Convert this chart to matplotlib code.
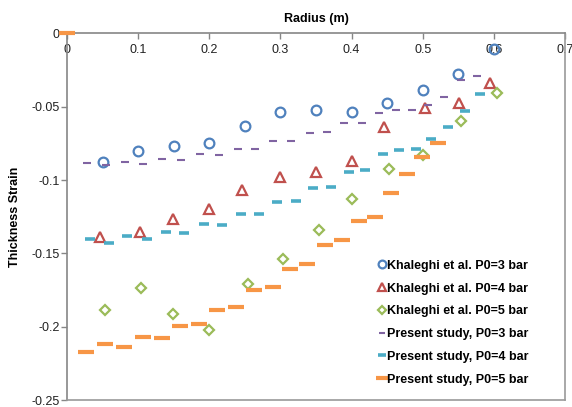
import matplotlib
matplotlib.use("Agg")
import matplotlib.pyplot as plt

plt.rcParams["font.family"] = ["Liberation Sans", "DejaVu Sans"]

# Khaleghi et al. (experimental)
kh_r = [0.05, 0.10, 0.15, 0.20, 0.25, 0.30, 0.35, 0.40, 0.45, 0.50, 0.55, 0.60]
kh3 = [-0.088, -0.080, -0.077, -0.0746, -0.0632, -0.0537, -0.0525, -0.0537, -0.0477, -0.0387, -0.0278, -0.0107]
kh4_r = [0.046, 0.102, 0.149, 0.200, 0.246, 0.300, 0.350, 0.400, 0.446, 0.503, 0.551, 0.595]
kh4 = [-0.139, -0.1357, -0.1267, -0.1194, -0.1069, -0.0978, -0.0944, -0.0869, -0.0637, -0.0512, -0.0477, -0.0341]
kh5_r = [0.054, 0.104, 0.149, 0.199, 0.254, 0.303, 0.354, 0.401, 0.453, 0.500, 0.553, 0.604]
kh5 = [-0.1888, -0.1733, -0.191, -0.2024, -0.1712, -0.1535, -0.1342, -0.1132, -0.0926, -0.083, -0.0598, -0.0405]

# Present study
ps3_r = [0.028, 0.055, 0.081, 0.107, 0.134, 0.160, 0.187, 0.213, 0.240, 0.264, 0.290, 0.315,
         0.341, 0.365, 0.390, 0.415, 0.438, 0.462, 0.485, 0.508, 0.530, 0.554, 0.576]
ps3 = [-0.0887, -0.0898, -0.0880, -0.0892, -0.0857, -0.0866, -0.0825, -0.0832, -0.0787, -0.0789, -0.0737, -0.0737,
       -0.0682, -0.0675, -0.0614, -0.0610, -0.0546, -0.0523, -0.0523, -0.0489, -0.0432, -0.0319, -0.0291]
ps4_r = [0.032, 0.059, 0.085, 0.112, 0.139, 0.165, 0.192, 0.218, 0.244, 0.270, 0.295, 0.322,
         0.346, 0.371, 0.396, 0.419, 0.444, 0.467, 0.490, 0.512, 0.536, 0.559, 0.581]
ps4 = [-0.1401, -0.1430, -0.1383, -0.1405, -0.1351, -0.1364, -0.1301, -0.1306, -0.1233, -0.1233, -0.1149, -0.1144,
       -0.1053, -0.1046, -0.0944, -0.0932, -0.0825, -0.0796, -0.0791, -0.0723, -0.0641, -0.0530, -0.0416]
ps5_r = [0.0, 0.027, 0.053, 0.080, 0.107, 0.133, 0.159, 0.186, 0.211, 0.237, 0.263, 0.289, 0.314,
         0.338, 0.363, 0.386, 0.410, 0.433, 0.455, 0.478, 0.499, 0.521]
ps5 = [0.0, -0.2174, -0.2119, -0.2139, -0.2069, -0.2076, -0.1992, -0.1983, -0.1883, -0.1865, -0.1751, -0.1728, -0.1603,
       -0.1569, -0.1444, -0.1410, -0.1280, -0.1255, -0.1091, -0.0960, -0.0842, -0.0750]

x_ticks = [0, 0.1, 0.2, 0.3, 0.4, 0.5, 0.6, 0.7]
x_labels = ["0", "0.1", "0.2", "0.3", "0.4", "0.5", "0.6", "0.7"]
y_ticks = [0, -0.05, -0.1, -0.15, -0.2, -0.25]
y_labels = ["0", "-0.05", "-0.1", "-0.15", "-0.2", "-0.25"]

fig = plt.figure(figsize=(5.72, 4.07), dpi=100)
ax = fig.add_axes([0.117, 0.017, 0.871, 0.901])

ax.plot(kh_r, kh3, "o", ms=7, mfc="none", mec="#4F81BD", mew=1.6, ls="none",
        label="Khaleghi et al. P0=3 bar", clip_on=False, zorder=3)
ax.plot(kh4_r, kh4, "^", ms=6.5, mfc="none", mec="#C0504D", mew=1.6, ls="none",
        label="Khaleghi et al. P0=4 bar", clip_on=False, zorder=3)
ax.plot(kh5_r, kh5, "D", ms=5.5, mfc="none", mec="#9BBB59", mew=1.6, ls="none",
        label="Khaleghi et al. P0=5 bar", clip_on=False, zorder=3)
ax.plot(ps3_r, ps3, "_", ms=5.5, mec="#8064A2", mew=1.5, ls="none",
        label="Present study, P0=3 bar", clip_on=False, zorder=3)
ax.plot(ps4_r, ps4, "_", ms=6.5, mec="#4BACC6", mew=2.6, ls="none",
        label="Present study, P0=4 bar", clip_on=False, zorder=3)
ax.plot(ps5_r, ps5, "_", ms=11, mec="#F79646", mew=3, ls="none",
        label="Present study, P0=5 bar", clip_on=False, zorder=3)

ax.set_xlim(0, 0.7)
ax.set_ylim(-0.25, 0)

# x axis sits at y=0 (top), frame border at the bottom
ax.spines["bottom"].set_position(("data", 0))
ax.spines["top"].set_position(("data", -0.25))
for s in ["bottom", "left"]:
    ax.spines[s].set_color("#868686")
    ax.spines[s].set_linewidth(1.2)
for s in ["top", "right"]:
    ax.spines[s].set_color("#9a9a9a")
    ax.spines[s].set_linewidth(1.2)

ax.set_xticks(x_ticks)
ax.set_xticklabels(x_labels)
ax.set_yticks(y_ticks)
ax.set_yticklabels(y_labels)
ax.tick_params(axis="both", direction="out", length=4, width=1, color="#868686",
               labelsize=9, labelcolor="#222222")
ax.tick_params(axis="x", pad=4)
ax.tick_params(axis="y", pad=1)

ax.set_title("Radius (m)", fontsize=9, fontweight="bold", pad=8)
ax.set_ylabel("Thickness Strain", fontsize=9, fontweight="bold", labelpad=8)

leg = ax.legend(loc="lower left", bbox_to_anchor=(0.615, 0.026), frameon=False,
                prop={"size": 9, "weight": "bold"}, handlelength=0.6, handletextpad=0.1,
                labelspacing=0.86, markerscale=0.8, borderaxespad=0)

fig.savefig("out.png", dpi=100)
